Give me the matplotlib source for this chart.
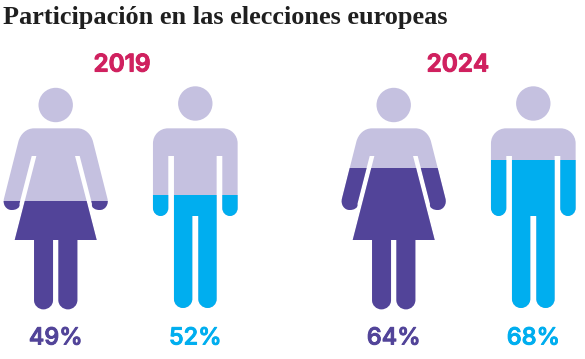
import matplotlib
matplotlib.use('Agg')
import matplotlib.pyplot as plt
import matplotlib.patheffects as pe
from matplotlib.path import Path
from matplotlib.patches import PathPatch, Circle, Rectangle

TITLE = 'Participación en las elecciones europeas'
YEARS = ['2019', '2024']
WOMEN_PCT = [49, 64]
MEN_PCT = [52, 68]

LIGHT = '#c5c1e0'
PURPLE = '#524499'
BLUE = '#00aeef'
PINK = '#d0215f'

M, L, C = Path.MOVETO, Path.LINETO, Path.CURVE4


def woman_half():
    # right half outline, x from the centre line, y from the top of the chart, in px*3
    return [
        (M, [(0, 175)]),
        (L, [(65, 175)]),
        (C, [(88, 175), (106, 192), (112, 215)]),
        (L, [(155, 385)]),
        (C, [(160, 404), (148, 420), (132, 420)]),
        (C, [(120, 420), (106, 414), (109, 402)]),
        (L, [(72, 258)]),
        (L, [(58, 258)]),
        (L, [(123, 510)]),
        (L, [(65, 510)]),
        (L, [(65, 690)]),
        (C, [(65, 706), (52, 718), (37, 718)]),
        (C, [(21, 718), (8, 706), (8, 690)]),
        (L, [(8, 510)]),
        (L, [(0, 510)]),
    ]


def man_half():
    return [
        (M, [(0, 175)]),
        (L, [(82, 175)]),
        (C, [(107, 175), (127, 195), (127, 220)]),
        (L, [(127, 414)]),
        (C, [(127, 428), (116, 438), (104, 438)]),
        (C, [(92, 438), (81, 428), (81, 414)]),
        (L, [(81, 258)]),
        (L, [(64, 258)]),
        (L, [(64, 687)]),
        (C, [(64, 702), (52, 714), (37, 714)]),
        (C, [(22, 714), (9, 702), (9, 687)]),
        (L, [(9, 438)]),
        (L, [(0, 438)]),
    ]


def mirror(half, cx):
    # builds the full closed outline from the right half
    codes, verts = [], []
    for code, pts in half:
        if code == C:
            codes += [C, C, C]
        else:
            codes.append(code)
        verts += pts
    # walk back along the left side
    xy = list(verts)
    cc = list(codes)
    for i in range(len(xy) - 2, -1, -1):
        xy.append((-xy[i][0], xy[i][1]))
        cc.append(cc[i + 1] if cc[i + 1] != M else L)
    cc.append(Path.CLOSEPOLY)
    xy.append(xy[0])
    return Path([(cx + x / 3, 70 + y / 3) for x, y in xy], cc)


def figure(ax, half, cx, head_y, bottom, height, pct, color):
    ax.add_patch(Circle((cx, head_y), 17.2, fc=LIGHT, ec='none'))
    outline = mirror(half, cx)
    ax.add_patch(PathPatch(outline, fc=LIGHT, ec='none'))
    level = bottom - height * pct / 100
    fill = PathPatch(outline, fc=color, ec='none')
    ax.add_patch(fill)
    clip = Rectangle((cx - 60, level), 120, bottom - level + 2, transform=ax.transData)
    fill.set_clip_path(clip)
    t = ax.text(cx, 338.5, f'{pct}%', color=color, ha='center', va='center',
                fontsize=17, fontfamily='Inter', fontweight='medium')
    # the installed Inter is thin, thicken it a bit
    t.set_path_effects([pe.withStroke(linewidth=0.7, foreground=color)])


fig = plt.figure(figsize=(5.85, 3.59), dpi=100)
ax = fig.add_axes([0, 0, 1, 1])
ax.set_xlim(0, 585)
ax.set_ylim(359, 0)
ax.axis('off')

ax.text(3, 17.5, TITLE, fontsize=18.9, fontfamily='Liberation Serif', fontweight='bold',
        color='#1f1f1f', va='center', ha='left')

woman_x = [55.7, 393.7]
man_x = [195.3, 533.3]
year_x = [122, 458]

for i, year in enumerate(YEARS):
    t = ax.text(year_x[i], 65, year, color=PINK, fontsize=17.5, fontfamily='Inter',
                fontweight='semibold', ha='center', va='center')
    t.set_path_effects([pe.withStroke(linewidth=0.8, foreground=PINK)])
    figure(ax, woman_half(), woman_x[i], 105, 309.3, 221.3, WOMEN_PCT[i], PURPLE)
    figure(ax, man_half(), man_x[i], 103.5, 308, 217.5, MEN_PCT[i], BLUE)

fig.savefig('out.png', dpi=100)
